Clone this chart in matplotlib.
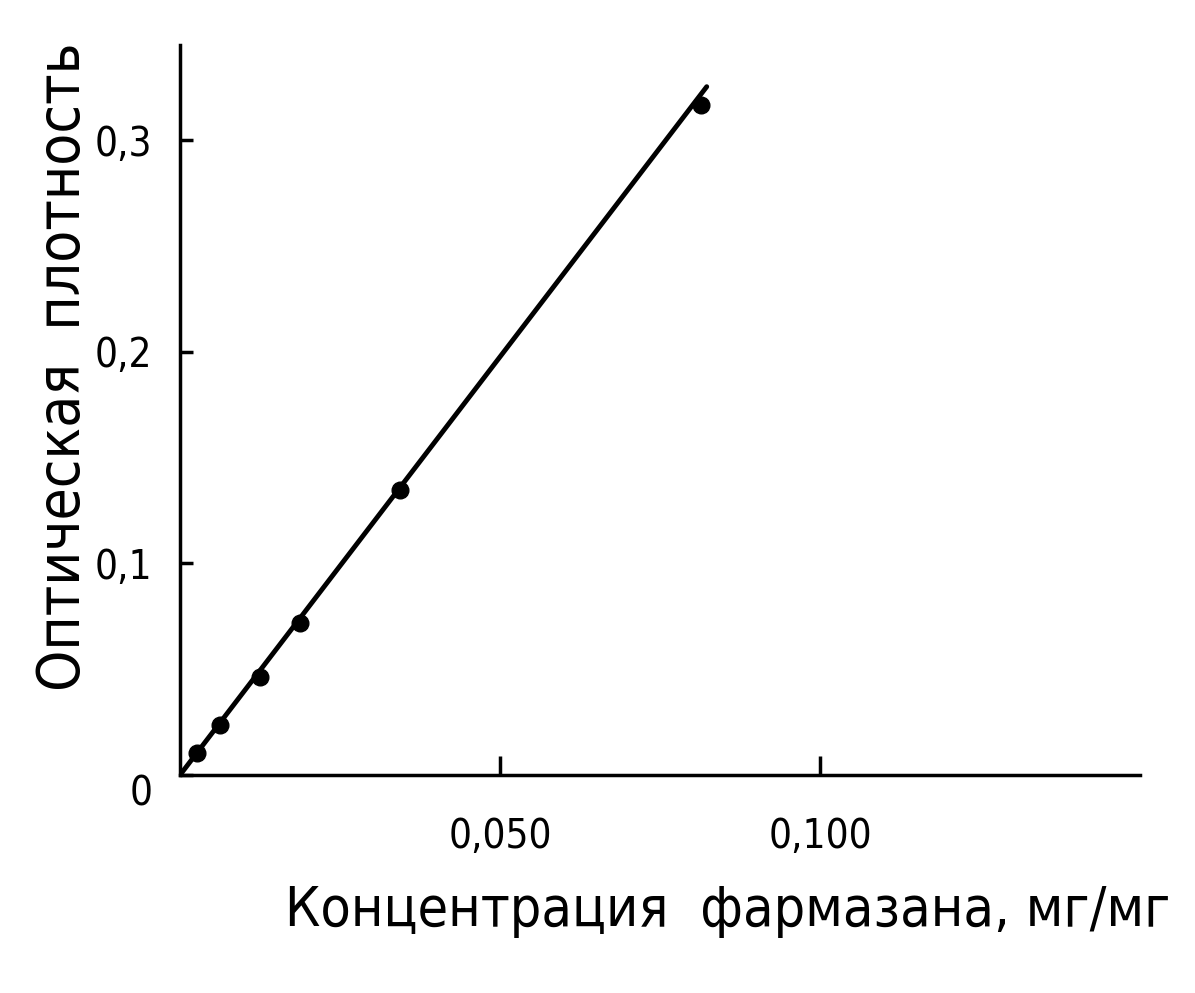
import matplotlib.pyplot as plt

plt.rcParams['font.family'] = ['DejaVu Sans']
plt.rcParams['font.stretch'] = 'condensed'

# концентрация, мг/мг и оптическая плотность
conc = [0.0027, 0.0063, 0.0125, 0.0188, 0.0344, 0.0814]
density = [0.0104, 0.0236, 0.0463, 0.0718, 0.1346, 0.3168]
line_x = [0.0, 0.0823]
line_y = [0.0, 0.3253]

xticks = [0.05, 0.10]
xticklabels = ['0,050', '0,100']
yticks = [0.0, 0.1, 0.2, 0.3]
yticklabels = ['0', '0,1', '0,2', '0,3']

fig = plt.figure(figsize=(11.95, 9.93), dpi=100)
ax = fig.add_axes([180 / 1195, 218 / 993, 960 / 1195, 730 / 993])

ax.plot(line_x, line_y, color='black', linewidth=3.5, solid_capstyle='round')
ax.plot(conc, density, 'o', color='black', markersize=12)

ax.set_xlim(0, 0.15)
ax.set_ylim(0, 0.345)

for s in ['top', 'right']:
    ax.spines[s].set_visible(False)
for s in ['left', 'bottom']:
    ax.spines[s].set_linewidth(2.5)

ax.set_xticks(xticks)
ax.set_xticklabels(xticklabels)
ax.set_yticks(yticks)
ax.set_yticklabels(yticklabels)
ax.tick_params(axis='x', direction='in', length=14, width=2.5, pad=30, labelsize=29)
ax.tick_params(axis='y', direction='in', length=9, width=2.5, pad=20, labelsize=29)
ax.get_yticklabels()[0].set_va('top')

ax.set_xlabel('Концентрация  фармазана, мг/мг', fontsize=40)
ax.xaxis.set_label_coords(0.57, -0.15)
ax.set_ylabel('Оптическая  плотность', fontsize=42)
ax.yaxis.set_label_coords(-0.092, 0.56)

plt.savefig('out.png', dpi=100)
